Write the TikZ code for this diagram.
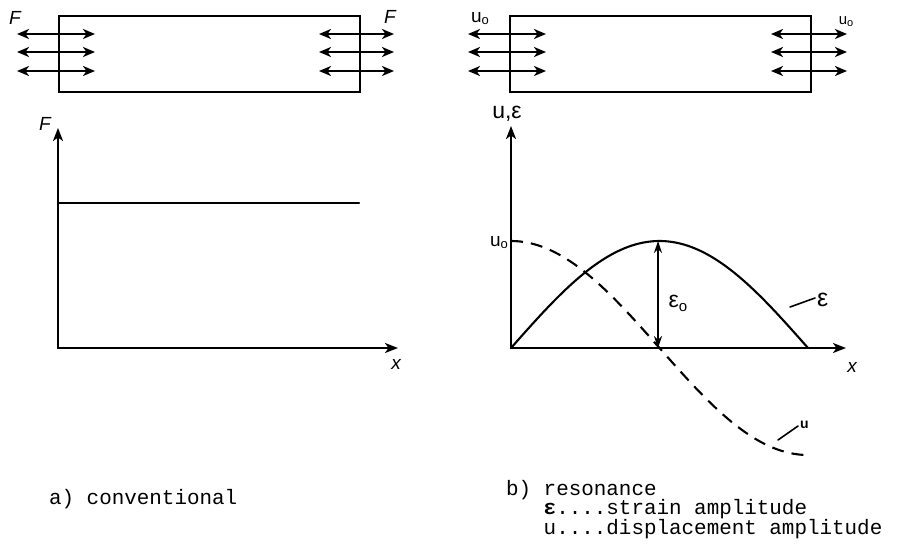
\documentclass[tikz,border=0pt]{standalone}
\usepackage{fontspec}
\setmainfont{Liberation Sans}
\newfontfamily\capfont{Liberation Mono}
\usetikzlibrary{arrows.meta}
\newcommand{\subo}[1][12]{{\fontsize{#1}{#1}\selectfont\raisebox{-2pt}{o}}}
\begin{document}
\begin{tikzpicture}[x=1pt,y=-1pt, line width=2.2pt, line cap=round,
  tipa/.style={-{Stealth[length=13pt,width=10pt,inset=3.5pt]}},
  dtip/.style={{Stealth[length=12pt,width=10pt,inset=3.5pt]}-{Stealth[length=12pt,width=10pt,inset=3.5pt]}},
  thinarrow/.style={line width=1.6pt,{Stealth[length=12pt,width=8pt]}-{Stealth[length=12pt,width=8pt]}},
  lbl/.style={font=\fontsize{19}{19}\selectfont\itshape, inner sep=0pt},
  biglbl/.style={font=\fontsize{23}{23}\selectfont, inner sep=0pt},
  captext/.style={font=\capfont\fontsize{20.9}{19}\selectfont, anchor=base west, inner sep=0pt, align=left},
  bar/.style={draw, line width=2.1pt, anchor=north west, minimum width=301pt, minimum height=76pt, inner sep=0pt},
  dashu/.style={dash pattern=on 12pt off 8pt}]
\useasboundingbox (0,0) rectangle (901,546);
\fill[white] (0,0) rectangle (901,546);

% ---------- left: conventional ----------
\node[bar] (barL) at (58,15) {};
\foreach \i/\y in {1/34,2/52,3/71}{
  \coordinate (la\i) at (17,\y); \coordinate (lb\i) at (95,\y);
  \coordinate (ra\i) at (319,\y); \coordinate (rb\i) at (394,\y);
  \draw[dtip] (la\i) -- (lb\i);
  \draw[dtip] (ra\i) -- (rb\i);
}
\node[lbl] (FL) at (15,18) {F};
\node[lbl] (FR) at (390,17) {F};

\coordinate (oL) at (58,348);
\coordinate (yL) at (58,128);
\coordinate (xL) at (398,348);
\draw[tipa] (oL) -- (yL);
\draw[tipa] (oL) -- (xL);
\coordinate (hA) at (58,203);
\coordinate (hB) at (359,203);
\draw (hA) -- (hB);
\node[lbl] (Fax) at (45,124) {F};
\node[lbl] (xax) at (396,364) {x};

\node[captext] (capA) at (48,504) {a) conventional};

% ---------- right: resonance ----------
\node[bar] (barR) at (509,15) {};
\foreach \i/\y in {1/34,2/52,3/71}{
  \coordinate (La\i) at (468,\y); \coordinate (Lb\i) at (546,\y);
  \coordinate (Ra\i) at (771,\y); \coordinate (Rb\i) at (847,\y);
  \draw[dtip] (La\i) -- (Lb\i);
  \draw[dtip] (Ra\i) -- (Rb\i);
}
\node[font=\fontsize{19}{19}\selectfont, inner sep=0pt] (uL) at (480,19) {u\subo[13]};
\node[font=\fontsize{15}{15}\selectfont, inner sep=0pt] (uR) at (846,22) {u\subo[11]};

\coordinate (oR) at (511,348);
\coordinate (yR) at (511,126);
\coordinate (xR) at (846,348);
\draw[tipa] (oR) -- (yR);
\draw[tipa] (oR) -- (xR);
\node[biglbl] (uexax) at (507,114) {u,ε};
\node[font=\fontsize{19}{19}\selectfont, inner sep=0pt] (u0) at (499,243) {u\subo[13]};
\node[lbl] (xaxR) at (852,367) {x};

% strain curve
\draw[line width=2.1pt] plot[domain=0:297, samples=90] ({511+\x},{348-107*sin(0.606061*\x)});
% displacement curve
\draw[dashu, line width=2.1pt, line cap=butt] plot[domain=0:297, samples=90] ({511+\x},{348-107*cos(0.606061*\x)});

\coordinate (pk) at (658,241);
\coordinate (md) at (658,348);
\draw[thinarrow] (pk) -- (md);
\node[biglbl] (e0) at (678,303) {ε\raisebox{-4pt}{\fontsize{15}{15}\selectfont o}};

\coordinate (eA) at (790,307);
\coordinate (eB) at (815,298);
\draw[line width=1.6pt] (eA) -- (eB);
\node[biglbl,anchor=west,font=\fontsize{25}{25}\selectfont] (elab) at (816,300) {ε};

\coordinate (uA) at (778,440);
\coordinate (uB) at (798,426);
\draw[line width=1.6pt] (uA) -- (uB);
\node[font=\fontsize{14}{14}\selectfont\bfseries, inner sep=0pt, anchor=west] (ulab) at (799,425) {u};

\node[captext] (capB) at (505,534) {b) resonance\\[-1pt]\hphantom{b) }\textbf{ε}....strain amplitude\\[-1pt]\hphantom{b) }u....displacement amplitude};
\end{tikzpicture}
\end{document}
